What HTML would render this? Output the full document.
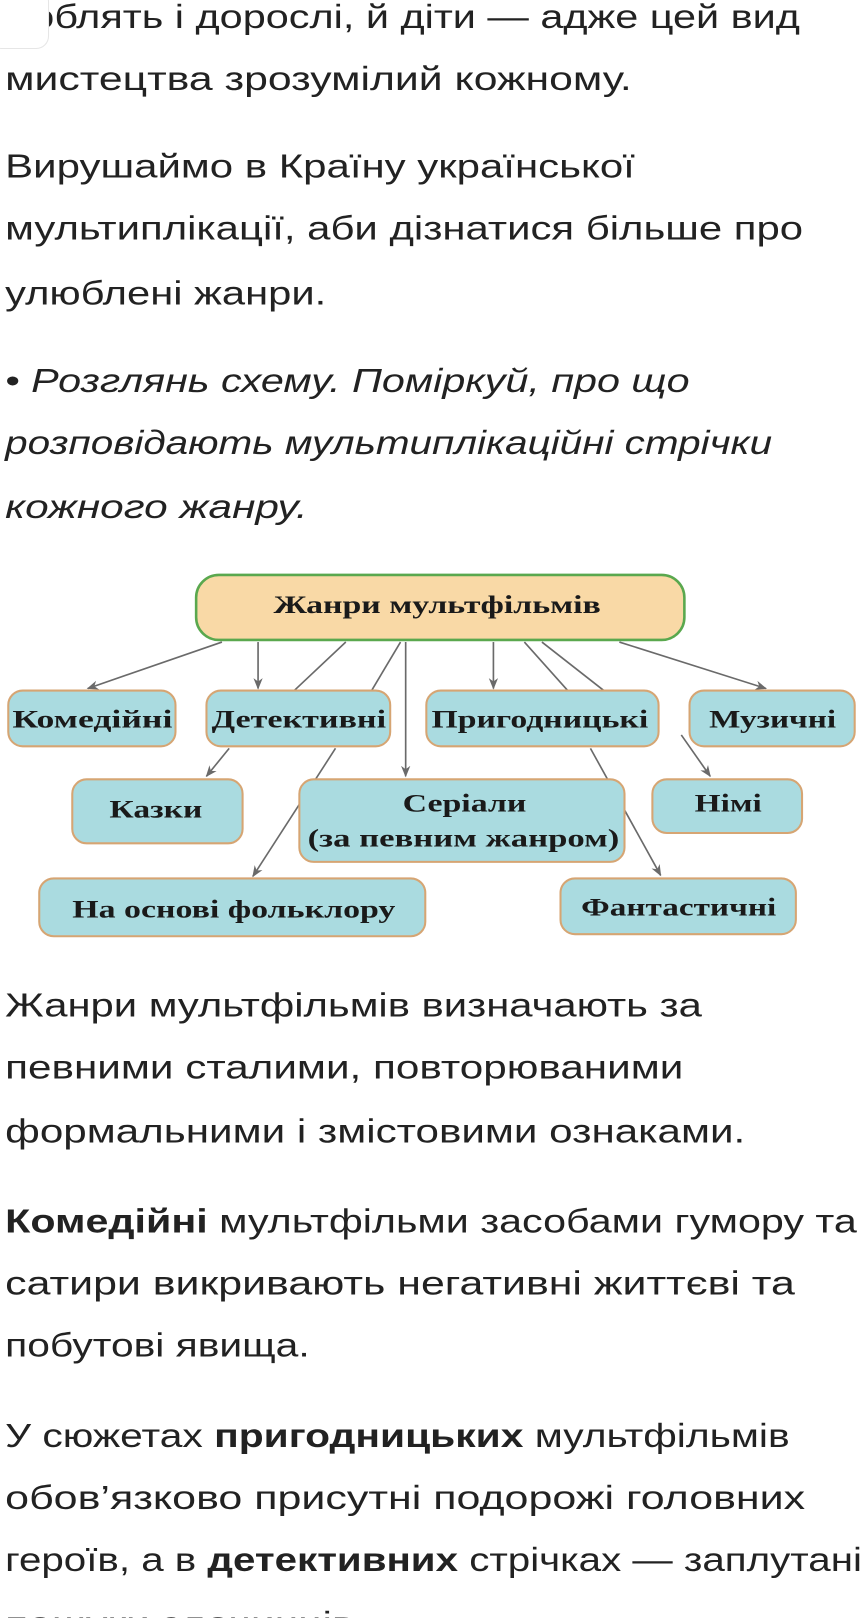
<!DOCTYPE html>
<html><head><meta charset="utf-8"><style>
html,body{margin:0;padding:0;background:#fff;width:864px;height:1618px;overflow:hidden}
svg{display:block}
.t{font-family:"Liberation Sans",sans-serif;font-size:32px;fill:#222}
.i{font-style:italic}
.b{font-weight:bold}
.d{font-family:"Liberation Serif",serif;font-weight:bold;font-size:25px;fill:#1a1a1a}
.bx{fill:#aadbe0;stroke:#d6a573;stroke-width:2}
.ln{stroke:#6a6a6a;stroke-width:1.6;fill:none}
</style></head><body>
<svg width="864" height="1618" viewBox="0 0 837 1567.5" xmlns="http://www.w3.org/2000/svg">
<defs><marker id="a" viewBox="0 0 10 10" refX="9" refY="5" markerWidth="7" markerHeight="7" orient="auto"><path d="M0,1 L10,5 L0,9 L3,5 z" fill="#6a6a6a"/></marker></defs>
<text class="t" x="8" y="27" textLength="767" lengthAdjust="spacingAndGlyphs">роблять і дорослі, й діти — адже цей вид</text>
<rect x="-10" y="-10" width="57" height="57" rx="12" fill="#fff" stroke="#e6e6e6"/>
<text class="t" x="5" y="87" textLength="607" lengthAdjust="spacingAndGlyphs">мистецтва зрозумілий кожному.</text>
<text class="t" x="5" y="172" textLength="610" lengthAdjust="spacingAndGlyphs">Вирушаймо в Країну української</text>
<text class="t" x="5" y="232" textLength="773" lengthAdjust="spacingAndGlyphs">мультиплікації, аби дізнатися більше про</text>
<text class="t" x="5" y="295" textLength="311" lengthAdjust="spacingAndGlyphs">улюблені жанри.</text>
<text class="t i" x="5" y="380" textLength="663" lengthAdjust="spacingAndGlyphs">• Розглянь схему. Поміркуй, про що</text>
<text class="t i" x="5" y="440" textLength="743" lengthAdjust="spacingAndGlyphs">розповідають мультиплікаційні стрічки</text>
<text class="t i" x="5" y="502" textLength="293" lengthAdjust="spacingAndGlyphs">кожного жанру.</text>

<rect x="190" y="557" width="473" height="63" rx="22" fill="#f9d9a6" stroke="#5aa84e" stroke-width="2.5"/>
<text class="d" x="265" y="594" textLength="317" lengthAdjust="spacingAndGlyphs">Жанри мультфільмів</text>
<g class="ln">
<line x1="215" y1="622" x2="85" y2="667" marker-end="url(#a)"/>
<line x1="250" y1="622" x2="250" y2="667" marker-end="url(#a)"/>
<line x1="335" y1="622" x2="285" y2="669"/>
<line x1="388" y1="622" x2="360" y2="669"/>
<line x1="393" y1="622" x2="393" y2="752" marker-end="url(#a)"/>
<line x1="478" y1="622" x2="478" y2="667" marker-end="url(#a)"/>
<line x1="508" y1="622" x2="550" y2="669"/>
<line x1="525" y1="622" x2="585" y2="669"/>
<line x1="600" y1="622" x2="742" y2="667" marker-end="url(#a)"/>
<line x1="222" y1="725" x2="200" y2="752" marker-end="url(#a)"/>
<line x1="325" y1="725" x2="245" y2="849" marker-end="url(#a)"/>
<line x1="572" y1="725" x2="640" y2="848" marker-end="url(#a)"/>
<line x1="660" y1="712" x2="688" y2="752" marker-end="url(#a)"/>
</g>
<rect class="bx" x="8" y="669" width="162" height="54" rx="14"/>
<text class="d" x="12" y="705" textLength="155" lengthAdjust="spacingAndGlyphs">Комедійні</text>
<rect class="bx" x="200" y="669" width="178" height="54" rx="14"/>
<text class="d" x="205" y="705" textLength="169" lengthAdjust="spacingAndGlyphs">Детективні</text>
<rect class="bx" x="413" y="669" width="225" height="54" rx="14"/>
<text class="d" x="418" y="705" textLength="210" lengthAdjust="spacingAndGlyphs">Пригодницькі</text>
<rect class="bx" x="668" y="669" width="160" height="54" rx="14"/>
<text class="d" x="687" y="705" textLength="123" lengthAdjust="spacingAndGlyphs">Музичні</text>
<rect class="bx" x="70" y="755" width="165" height="62" rx="14"/>
<text class="d" x="106" y="792" textLength="90" lengthAdjust="spacingAndGlyphs">Казки</text>
<rect class="bx" x="290" y="755" width="315" height="80" rx="14"/>
<text class="d" x="390" y="786" textLength="120" lengthAdjust="spacingAndGlyphs">Серіали</text>
<text class="d" x="298" y="820" textLength="302" lengthAdjust="spacingAndGlyphs">(за певним жанром)</text>
<rect class="bx" x="632" y="755" width="145" height="52" rx="14"/>
<text class="d" x="673" y="786" textLength="65" lengthAdjust="spacingAndGlyphs">Німі</text>
<rect class="bx" x="38" y="851" width="374" height="56" rx="14"/>
<text class="d" x="70" y="889" textLength="313" lengthAdjust="spacingAndGlyphs">На основі фольклору</text>
<rect class="bx" x="543" y="851" width="228" height="54" rx="14"/>
<text class="d" x="563" y="887" textLength="189" lengthAdjust="spacingAndGlyphs">Фантастичні</text>

<text class="t" x="5" y="985" textLength="675" lengthAdjust="spacingAndGlyphs">Жанри мультфільмів визначають за</text>
<text class="t" x="5" y="1045" textLength="657" lengthAdjust="spacingAndGlyphs">певними сталими, повторюваними</text>
<text class="t" x="5" y="1107" textLength="717" lengthAdjust="spacingAndGlyphs">формальними і змістовими ознаками.</text>
<text class="t" x="5" y="1194" textLength="825" lengthAdjust="spacingAndGlyphs"><tspan class="b">Комедійні</tspan> мультфільми засобами гумору та</text>
<text class="t" x="5" y="1254" textLength="765" lengthAdjust="spacingAndGlyphs">сатири викривають негативні життєві та</text>
<text class="t" x="5" y="1314" textLength="295" lengthAdjust="spacingAndGlyphs">побутові явища.</text>
<text class="t" x="5" y="1402" textLength="760" lengthAdjust="spacingAndGlyphs">У сюжетах <tspan class="b">пригодницьких</tspan> мультфільмів</text>
<text class="t" x="5" y="1462" textLength="775" lengthAdjust="spacingAndGlyphs">обов’язково присутні подорожі головних</text>
<text class="t" x="5" y="1522" textLength="830" lengthAdjust="spacingAndGlyphs">героїв, а в <tspan class="b">детективних</tspan> стрічках — заплутані</text>
<text class="t" x="5" y="1584" textLength="350" lengthAdjust="spacingAndGlyphs">пошуки злочинців.</text>
</svg>
</body></html>
